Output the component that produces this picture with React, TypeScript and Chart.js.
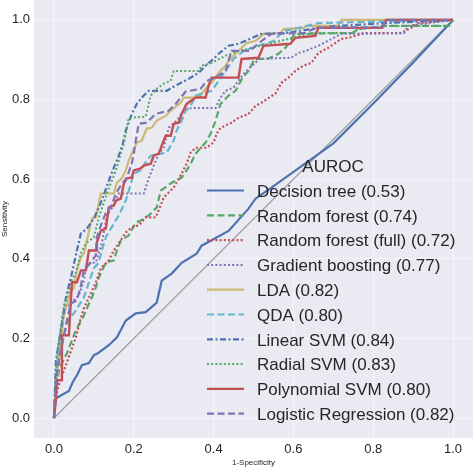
import React, { useEffect, useRef } from "react";
import { Chart, registerables } from "chart.js";

Chart.register(...registerables);

const FONT = "'Liberation Sans', Arial, sans-serif";
const TEXT = "#262626";

const xTicks = [0, 0.2, 0.4, 0.6, 0.8, 1.0];
const yTicks = [0, 0.2, 0.4, 0.6, 0.8, 1.0];

const legendTitle = "AUROC";
const modelNames = [
  "Decision tree",
  "Random forest",
  "Random forest (full)",
  "Gradient boosting",
  "LDA",
  "QDA",
  "Linear SVM",
  "Radial SVM",
  "Polynomial SVM",
  "Logistic Regression",
];
const aurocValues = [0.53, 0.74, 0.72, 0.77, 0.82, 0.8, 0.84, 0.83, 0.8, 0.82];

const chanceLine: [number, number][] = [[0, 0], [1, 1]];

const decisionTree: [number, number][] = [
  [0, 0], [0.005, 0.05], [0.0375, 0.068], [0.047, 0.09], [0.058, 0.108], [0.07, 0.133],
  [0.0875, 0.138], [0.1, 0.158], [0.11, 0.163], [0.1375, 0.183], [0.158, 0.203], [0.18, 0.245],
  [0.205, 0.263], [0.23, 0.266], [0.2575, 0.29], [0.27, 0.345], [0.295, 0.363], [0.32, 0.39],
  [0.3575, 0.413], [0.37, 0.433], [0.4375, 0.47], [0.4875, 0.526], [0.505, 0.551], [0.545, 0.579],
  [0.6125, 0.627], [0.7, 0.69], [0.8, 0.79], [0.9, 0.893], [1, 1],
];

const randomForest: [number, number][] = [
  [0, 0], [0.005, 0.07], [0.0125, 0.12], [0.02, 0.138], [0.0325, 0.163], [0.045, 0.195],
  [0.055, 0.221], [0.075, 0.258], [0.0825, 0.276], [0.095, 0.303], [0.105, 0.328], [0.1125, 0.353],
  [0.13, 0.391], [0.15, 0.396], [0.1575, 0.421], [0.1675, 0.446], [0.1875, 0.459], [0.205, 0.491],
  [0.2175, 0.496], [0.2375, 0.509], [0.2575, 0.529], [0.2675, 0.571], [0.295, 0.591], [0.32, 0.604],
  [0.3325, 0.622], [0.3425, 0.639], [0.355, 0.664], [0.3675, 0.679], [0.38, 0.692], [0.3925, 0.714],
  [0.405, 0.747], [0.4175, 0.789], [0.4375, 0.81], [0.455, 0.822], [0.4725, 0.855], [0.4875, 0.872],
  [0.5025, 0.902], [0.535, 0.902], [0.5625, 0.915], [0.58, 0.93], [0.5925, 0.947], [0.6025, 0.965],
  [0.7475, 0.967], [0.7625, 0.977], [0.8325, 0.985], [0.99, 0.985], [1, 1],
];

const randomForestFull: [number, number][] = [
  [0, 0], [0.005, 0.058], [0.0175, 0.1], [0.0325, 0.14], [0.045, 0.175], [0.055, 0.203],
  [0.0675, 0.251], [0.075, 0.276], [0.0925, 0.313], [0.105, 0.341], [0.1175, 0.376], [0.1375, 0.396],
  [0.15, 0.421], [0.1625, 0.439], [0.18, 0.466], [0.195, 0.479], [0.2125, 0.484], [0.23, 0.504],
  [0.255, 0.504], [0.2675, 0.534], [0.275, 0.554], [0.3, 0.579], [0.32, 0.614], [0.3325, 0.639],
  [0.3425, 0.667], [0.355, 0.679], [0.3825, 0.679], [0.4, 0.692], [0.4075, 0.714], [0.4175, 0.729],
  [0.445, 0.742], [0.4625, 0.754], [0.4875, 0.764], [0.505, 0.784], [0.52, 0.792], [0.555, 0.815],
  [0.57, 0.842], [0.5875, 0.855], [0.605, 0.872], [0.625, 0.885], [0.645, 0.892], [0.6625, 0.917],
  [0.6875, 0.93], [0.705, 0.942], [0.72, 0.952], [0.745, 0.957], [0.7775, 0.967], [0.87, 0.967],
  [0.895, 0.98], [0.9125, 0.992], [1, 1],
];

const gradientBoosting: [number, number][] = [
  [0, 0], [0.005, 0.095], [0.0125, 0.17], [0.0225, 0.246], [0.03, 0.278], [0.0625, 0.308],
  [0.075, 0.346], [0.0825, 0.388], [0.105, 0.391], [0.12, 0.439], [0.1325, 0.509], [0.15, 0.534],
  [0.1625, 0.564], [0.225, 0.564], [0.2375, 0.602], [0.25, 0.634], [0.2625, 0.664], [0.275, 0.679],
  [0.2875, 0.729], [0.3075, 0.747], [0.325, 0.772], [0.345, 0.779], [0.405, 0.779], [0.4175, 0.805],
  [0.43, 0.822], [0.45, 0.83], [0.4675, 0.855], [0.4875, 0.877], [0.505, 0.892], [0.5125, 0.902],
  [0.595, 0.905], [0.6125, 0.917], [0.63, 0.922], [0.6625, 0.935], [0.695, 0.952], [0.72, 0.965],
  [0.8775, 0.967], [0.8875, 0.985], [1, 1],
];

const lda: [number, number][] = [
  [0, 0], [0.005, 0.07], [0.0125, 0.145], [0.0175, 0.195], [0.025, 0.263], [0.0325, 0.283],
  [0.0425, 0.321], [0.05, 0.326], [0.0575, 0.371], [0.0675, 0.404], [0.075, 0.414], [0.0825, 0.446],
  [0.095, 0.501], [0.105, 0.504], [0.1175, 0.564], [0.15, 0.564], [0.1575, 0.591], [0.17, 0.602],
  [0.18, 0.622], [0.1875, 0.647], [0.195, 0.664], [0.2075, 0.692], [0.22, 0.697], [0.2325, 0.727],
  [0.245, 0.729], [0.2575, 0.747], [0.28, 0.759], [0.2925, 0.772], [0.305, 0.782], [0.3175, 0.792],
  [0.325, 0.805], [0.3625, 0.805], [0.3825, 0.83], [0.395, 0.842], [0.4125, 0.867], [0.43, 0.885],
  [0.4375, 0.897], [0.45, 0.91], [0.4675, 0.927], [0.4825, 0.942], [0.505, 0.947], [0.525, 0.965],
  [0.5675, 0.967], [0.575, 0.977], [0.625, 0.98], [0.6325, 0.985], [0.7125, 0.985], [0.72, 1],
  [1, 1],
];

const qda: [number, number][] = [
  [0, 0], [0.005, 0.083], [0.0125, 0.145], [0.025, 0.208], [0.0375, 0.251], [0.05, 0.263],
  [0.0625, 0.283], [0.075, 0.303], [0.0875, 0.341], [0.1, 0.376], [0.1125, 0.391], [0.12, 0.421],
  [0.13, 0.454], [0.1425, 0.476], [0.1625, 0.509], [0.18, 0.546], [0.1875, 0.571], [0.2, 0.614],
  [0.2175, 0.622], [0.2325, 0.647], [0.2425, 0.659], [0.2825, 0.667], [0.3, 0.697], [0.3075, 0.722],
  [0.32, 0.747], [0.33, 0.772], [0.345, 0.789], [0.355, 0.81], [0.395, 0.822], [0.4125, 0.847],
  [0.43, 0.872], [0.45, 0.902], [0.475, 0.922], [0.5125, 0.935], [0.55, 0.947], [0.575, 0.972],
  [0.6125, 0.98], [0.6625, 0.992], [1, 1],
];

const linearSvm: [number, number][] = [
  [0, 0], [0.005, 0.145], [0.0175, 0.221], [0.03, 0.303], [0.0425, 0.353], [0.0575, 0.421],
  [0.0675, 0.464], [0.0825, 0.476], [0.1, 0.501], [0.1175, 0.541], [0.1375, 0.596], [0.15, 0.629],
  [0.1625, 0.659], [0.1725, 0.689], [0.18, 0.722], [0.195, 0.764], [0.2075, 0.789], [0.22, 0.805],
  [0.2375, 0.822], [0.2825, 0.822], [0.305, 0.835], [0.3375, 0.852], [0.3625, 0.867], [0.38, 0.885],
  [0.4, 0.902], [0.4125, 0.915], [0.4375, 0.935], [0.4625, 0.94], [0.52, 0.965], [0.58, 0.967],
  [0.6125, 0.972], [0.6625, 0.98], [0.7125, 0.985], [0.8325, 0.992], [1, 1],
];

const radialSvm: [number, number][] = [
  [0, 0], [0.005, 0.12], [0.0125, 0.195], [0.025, 0.283], [0.0375, 0.316], [0.045, 0.346],
  [0.055, 0.366], [0.0675, 0.414], [0.08, 0.439], [0.1, 0.454], [0.1125, 0.504], [0.1325, 0.564],
  [0.155, 0.622], [0.1625, 0.647], [0.175, 0.689], [0.1875, 0.754], [0.23, 0.757], [0.2425, 0.81],
  [0.2575, 0.827], [0.275, 0.84], [0.2925, 0.847], [0.3, 0.872], [0.3625, 0.872], [0.37, 0.885],
  [0.395, 0.892], [0.43, 0.91], [0.4625, 0.922], [0.5175, 0.935], [0.5875, 0.952], [0.6475, 0.967],
  [0.7475, 0.967], [0.7625, 0.977], [0.8325, 0.985], [0.9875, 0.985], [1, 1],
];

const polynomialSvm: [number, number][] = [
  [0, 0], [0.005, 0.05], [0.0075, 0.095], [0.02, 0.095], [0.02, 0.208], [0.0375, 0.208],
  [0.045, 0.341], [0.0575, 0.341], [0.0675, 0.371], [0.08, 0.371], [0.0875, 0.421], [0.1075, 0.421],
  [0.1075, 0.441], [0.1175, 0.471], [0.13, 0.476], [0.1375, 0.529], [0.15, 0.534], [0.155, 0.546],
  [0.1675, 0.551], [0.175, 0.589], [0.1825, 0.602], [0.195, 0.604], [0.2, 0.622], [0.2175, 0.627],
  [0.225, 0.634], [0.2425, 0.639], [0.25, 0.659], [0.2625, 0.664], [0.27, 0.684], [0.28, 0.709],
  [0.2925, 0.709], [0.3, 0.739], [0.3125, 0.742], [0.32, 0.764], [0.3325, 0.789], [0.355, 0.805],
  [0.38, 0.805], [0.3875, 0.835], [0.395, 0.855], [0.4625, 0.855], [0.47, 0.902], [0.5125, 0.905],
  [0.525, 0.935], [0.5925, 0.94], [0.605, 0.955], [0.655, 0.96], [0.6625, 0.98], [0.8225, 0.98],
  [0.8325, 1], [1, 1],
];

const logisticRegression: [number, number][] = [
  [0, 0], [0.005, 0.095], [0.0125, 0.145], [0.02, 0.183], [0.0325, 0.246], [0.0425, 0.288],
  [0.0575, 0.296], [0.0675, 0.333], [0.075, 0.371], [0.0925, 0.391], [0.105, 0.409], [0.1075, 0.454],
  [0.12, 0.491], [0.1325, 0.521], [0.1425, 0.529], [0.155, 0.564], [0.1675, 0.584], [0.1825, 0.604],
  [0.195, 0.639], [0.2, 0.664], [0.205, 0.697], [0.2125, 0.739], [0.2325, 0.742], [0.255, 0.764],
  [0.2875, 0.772], [0.305, 0.789], [0.3175, 0.805], [0.33, 0.82], [0.3675, 0.827], [0.3825, 0.847],
  [0.405, 0.855], [0.43, 0.872], [0.4375, 0.897], [0.445, 0.922], [0.49, 0.922], [0.52, 0.947],
  [0.545, 0.965], [0.6275, 0.967], [0.6575, 0.98], [0.8225, 0.982], [0.8325, 1], [1, 1],
];

const curves = [
  decisionTree, randomForest, randomForestFull, gradientBoosting, lda,
  qda, linearSvm, radialSvm, polynomialSvm, logisticRegression,
];

const DASHED = [7, 3.5];
const DOTTED = [2, 2.2];
const DASHDOT = [6, 2.5, 2, 2.5];

const styles = [
  { color: "#4C72B0", dash: [] as number[], width: 2.2 },
  { color: "#55A868", dash: DASHED, width: 2.2 },
  { color: "#C44E52", dash: DOTTED, width: 2.2 },
  { color: "#8172B2", dash: DOTTED, width: 2 },
  { color: "#CCB974", dash: [] as number[], width: 2.2 },
  { color: "#64B5CD", dash: DASHED, width: 2.2 },
  { color: "#4C72B0", dash: DASHDOT, width: 2.2 },
  { color: "#55A868", dash: DOTTED, width: 2 },
  { color: "#C44E52", dash: [] as number[], width: 2.4 },
  { color: "#8172B2", dash: DASHED, width: 2.2 },
];

const bgPlugin = {
  id: "bgPlugin",
  beforeDraw(chart: any) {
    const { ctx, chartArea } = chart;
    ctx.save();
    ctx.fillStyle = "#ffffff";
    ctx.fillRect(0, 0, chart.width, chart.height);
    ctx.fillStyle = "#EAEAF2";
    ctx.fillRect(chartArea.left, chartArea.top, chartArea.right - chartArea.left, chartArea.bottom - chartArea.top);
    ctx.restore();
  },
};

const legendPlugin = {
  id: "customLegend",
  afterDatasetsDraw(chart: any) {
    const ctx = chart.ctx;
    ctx.save();
    ctx.fillStyle = TEXT;
    ctx.font = `17px ${FONT}`;
    ctx.textAlign = "center";
    ctx.textBaseline = "alphabetic";
    ctx.fillText(legendTitle, 333, 172);
    ctx.textAlign = "left";
    modelNames.forEach((name, i) => {
      const cy = 190.5 + i * 24.8;
      const st = styles[i];
      ctx.beginPath();
      ctx.strokeStyle = st.color;
      ctx.lineWidth = st.width;
      ctx.setLineDash(st.dash);
      ctx.moveTo(207, cy);
      ctx.lineTo(244, cy);
      ctx.stroke();
      ctx.setLineDash([]);
      ctx.fillStyle = TEXT;
      ctx.fillText(`${name} (${aurocValues[i].toFixed(2)})`, 257, cy + 6.2);
    });
    ctx.restore();
  },
};

const zeroPad = (s: any) => {
  s.paddingTop = 0;
  s.paddingBottom = 0;
  s.paddingLeft = 0;
  s.paddingRight = 0;
};

export default function App() {
  const canvasRef = useRef<HTMLCanvasElement | null>(null);

  useEffect(() => {
    const canvas = canvasRef.current;
    if (!canvas) return;
    const n = curves.length;
    const datasets: any[] = [
      {
        label: "chance",
        data: chanceLine.map(([x, y]) => ({ x, y })),
        borderColor: "#9a9a9a",
        borderWidth: 1.3,
        showLine: true,
        pointRadius: 0,
        order: n + 1,
      },
      ...curves.map((c, i) => ({
        label: modelNames[i],
        data: c.map(([x, y]) => ({ x, y })),
        borderColor: styles[i].color,
        borderWidth: styles[i].width,
        borderDash: styles[i].dash,
        showLine: true,
        pointRadius: 0,
        tension: 0,
        order: n - i,
      })),
    ];

    const chart = new Chart(canvas, {
      type: "scatter",
      data: { datasets },
      options: {
        responsive: false,
        animation: false,
        devicePixelRatio: 1,
        layout: { padding: 0 },
        plugins: { legend: { display: false }, tooltip: { enabled: false } },
        scales: {
          x: {
            type: "linear",
            min: -0.05,
            max: 1.05,
            afterBuildTicks: (s: any) => {
              s.ticks = xTicks.map((v) => ({ value: v }));
            },
            afterFit: (s: any) => {
              s.height = 30;
              zeroPad(s);
            },
            ticks: {
              callback: (v: any) => Number(v).toFixed(1),
              font: { size: 13, family: FONT },
              color: TEXT,
              padding: 4,
              maxRotation: 0,
              autoSkip: false,
            },
            grid: { color: "rgba(255,255,255,0.5)", lineWidth: 1, drawTicks: false },
            border: { display: false },
            title: {
              display: true,
              text: "1-Specificity",
              font: { size: 8, family: FONT },
              color: TEXT,
              padding: { top: 0, bottom: 0.5 },
            },
          },
          y: {
            type: "linear",
            min: -0.05,
            max: 1.05,
            afterBuildTicks: (s: any) => {
              s.ticks = yTicks.map((v) => ({ value: v }));
            },
            afterFit: (s: any) => {
              s.width = 34;
              zeroPad(s);
            },
            ticks: {
              callback: (v: any) => Number(v).toFixed(1),
              font: { size: 13, family: FONT },
              color: TEXT,
              padding: 4,
              autoSkip: false,
            },
            grid: { color: "rgba(255,255,255,0.5)", lineWidth: 1, drawTicks: false },
            border: { display: false },
            title: {
              display: true,
              text: "Sensitivity",
              font: { size: 8, family: FONT },
              color: TEXT,
              padding: { top: 0, bottom: 0 },
            },
          },
        },
      },
      plugins: [bgPlugin, legendPlugin],
    });
    return () => chart.destroy();
  }, []);

  return (
    <div style={{ position: "absolute", left: 0, top: 0, width: 473, height: 468, background: "#fff" }}>
      <canvas ref={canvasRef} width={473} height={468} style={{ display: "block", width: 473, height: 468 }} />
    </div>
  );
}
